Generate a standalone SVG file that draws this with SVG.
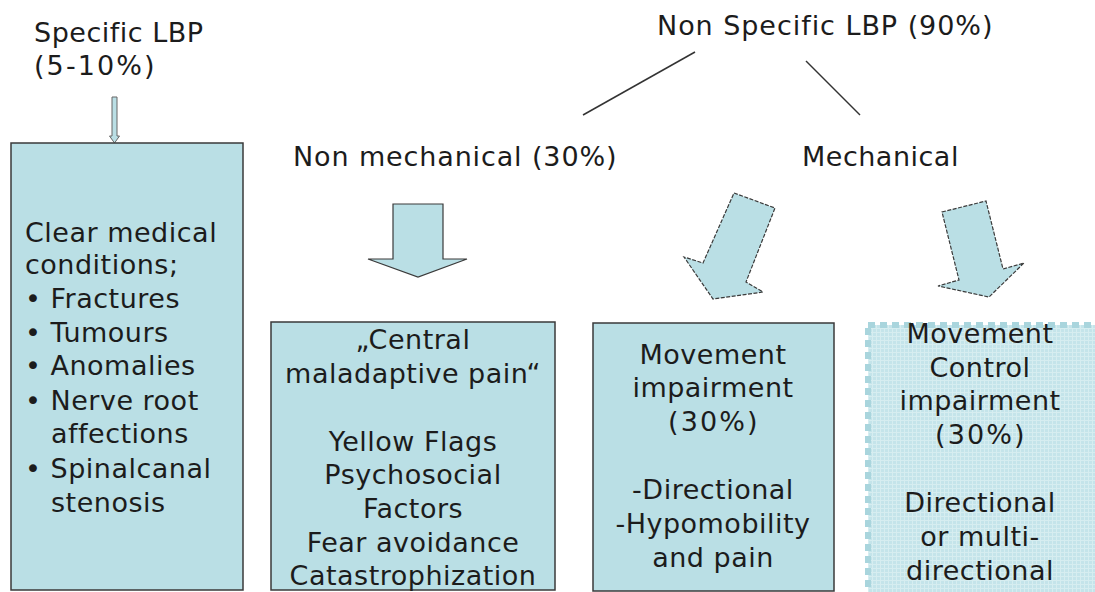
<svg xmlns="http://www.w3.org/2000/svg" width="1095" height="592" viewBox="0 0 1095 592">
<defs>
<style>
text{font-family:"DejaVu Sans","Verdana",sans-serif;font-size:27px;fill:#1c1c1c;letter-spacing:0.5px}
.c{text-anchor:middle}
.box{fill:#badfe5;stroke:#3a3a3a;stroke-width:1.5}
.arr{fill:#badfe5;stroke:#3a3a3a;stroke-width:1.2}
.dash{stroke-dasharray:4 1.5}
.ln{stroke:#333;stroke-width:1.5;fill:none}
</style>
<pattern id="grid" width="4" height="4" patternUnits="userSpaceOnUse">
<rect width="4" height="4" fill="#c4e4ea"/>
<path d="M0 0.5H4M0.5 0V4" stroke="#d6edf0" stroke-width="1"/>
</pattern>
</defs>
<rect width="1095" height="592" fill="#fff"/>

<g id="connectors">
<line class="ln" x1="695" y1="52" x2="583" y2="115"/>
<line class="ln" x1="806" y1="61" x2="860" y2="115"/>
<path class="arr" d="M112 97 H117 V136 H119.5 L114.5 143 L109.5 136 H112 Z" style="stroke:#666;stroke-width:1"/>
<path class="arr" d="M393 204 H443 V259 H467 L418 277 L368 259 H393 Z"/>
<path class="arr dash" d="M734 193 L775 208 L746 282 L763 292 L713 299 L684 257 L703 263 Z"/>
<path class="arr dash" d="M942 212 L986 201 L1003 269 L1024 263 L989 297 L938 286 L959 280 Z"/>
</g>

<g id="specific">
<text x="34" y="42">Specific LBP</text>
<text x="34" y="75" textLength="121" lengthAdjust="spacing">(5-10%)</text>
</g>

<g id="nonspecific">
<text x="657" y="35" textLength="336" lengthAdjust="spacing">Non Specific LBP (90%)</text>
</g>

<g id="nonmechanical">
<text x="293" y="166" textLength="324" lengthAdjust="spacing">Non mechanical (30%)</text>
</g>

<g id="mechanical">
<text x="802" y="166">Mechanical</text>
</g>

<g id="box-specific">
<rect class="box" x="11" y="143" width="232" height="447"/>
<text x="25" y="242">Clear medical</text>
<text x="25" y="274">conditions;</text>
<text x="25" y="308">• Fractures</text>
<text x="25" y="342">• Tumours</text>
<text x="25" y="375">• Anomalies</text>
<text x="25" y="410">• Nerve root</text>
<text x="51" y="443">affections</text>
<text x="25" y="478">• Spinalcanal</text>
<text x="51" y="512">stenosis</text>
</g>

<g id="box-central">
<rect class="box" x="271" y="322" width="284" height="268"/>
<text class="c" x="413" y="349">„Central</text>
<text class="c" x="413" y="383">maladaptive pain“</text>
<text class="c" x="413" y="451">Yellow Flags</text>
<text class="c" x="413" y="484">Psychosocial</text>
<text class="c" x="413" y="518">Factors</text>
<text class="c" x="413" y="552">Fear avoidance</text>
<text class="c" x="413" y="585">Catastrophization</text>
</g>

<g id="box-movement">
<rect class="box" x="593" y="323" width="241" height="268"/>
<text class="c" x="713" y="364">Movement</text>
<text class="c" x="713" y="397">impairment</text>
<text class="c" x="713" y="431" textLength="90" lengthAdjust="spacing">(30%)</text>
<text class="c" x="713" y="499">-Directional</text>
<text class="c" x="713" y="533">-Hypomobility</text>
<text class="c" x="713" y="567">and pain</text>
</g>

<g id="box-control">
<rect x="868" y="325" width="240" height="275" fill="url(#grid)" stroke="#a9d5dd" stroke-width="6" stroke-dasharray="7 5"/>
<text class="c" x="980" y="343">Movement</text>
<text class="c" x="980" y="377">Control</text>
<text class="c" x="980" y="410">impairment</text>
<text class="c" x="980" y="444" textLength="90" lengthAdjust="spacing">(30%)</text>
<text class="c" x="980" y="512">Directional</text>
<text class="c" x="980" y="546">or multi-</text>
<text class="c" x="980" y="580">directional</text>
</g>
</svg>
